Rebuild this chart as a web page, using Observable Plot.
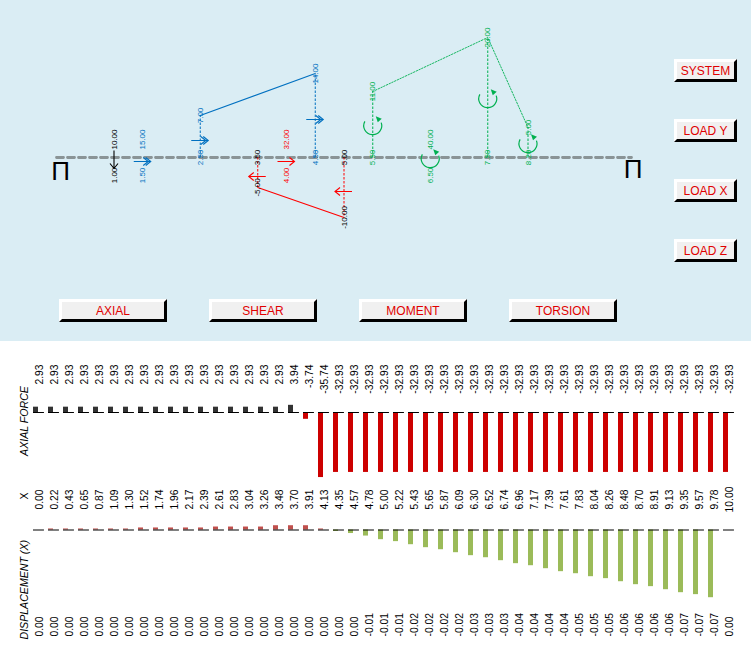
<!DOCTYPE html>
<html><head><meta charset="utf-8">
<script src="https://cdn.jsdelivr.net/npm/d3@7"></script>
<script src="https://cdn.jsdelivr.net/npm/@observablehq/plot@0.6"></script>
<style>
html,body{margin:0;padding:0;background:#fff}
#page{position:relative;width:751px;height:661px;overflow:hidden;font-family:"Liberation Sans",Arial,sans-serif}
#page svg{position:absolute;left:0;max-width:none}
.btn{position:absolute;box-sizing:border-box;height:23px;background:#f0f0f0;border:3px solid;border-color:#fff #000 #000 #fff;color:#e00000;font-size:12px;line-height:18px;text-align:center}
</style></head><body><div id="page"></div>
<script>
// Loads on the beam (position along the beam, load value)
const axialLoadX = [1.0], axialLoadV = [10];
const bluePointX = [1.5], bluePointV = [15];
const redPointX = [4.0], redPointV = [32];
const greenPointX = [6.5], greenPointV = [40];
const blueDistX = [2.5, 4.5], blueDistV = [7, 14];
const redDistX = [3.5, 5.0], redDistV = [-5, -10];
const greenDistX = [5.5, 7.5, 8.2], greenDistV = [11, 20, 5];
const beamEnds = [0, 10];
const supportX = [0.07, 10.03], supportY = [-2.3, -2.0];

// Result tables
const stationX = ["0.00","0.22","0.43","0.65","0.87","1.09","1.30","1.52","1.74","1.96","2.17","2.39","2.61","2.83","3.04","3.26","3.48","3.70","3.91","4.13","4.35","4.57","4.78","5.00","5.22","5.43","5.65","5.87","6.09","6.30","6.52","6.74","6.96","7.17","7.39","7.61","7.83","8.04","8.26","8.48","8.70","8.91","9.13","9.35","9.57","9.78","10.00"];
const axialForce = [2.93,2.93,2.93,2.93,2.93,2.93,2.93,2.93,2.93,2.93,2.93,2.93,2.93,2.93,2.93,2.93,2.93,3.94,-3.74,-35.74,-32.93,-32.93,-32.93,-32.93,-32.93,-32.93,-32.93,-32.93,-32.93,-32.93,-32.93,-32.93,-32.93,-32.93,-32.93,-32.93,-32.93,-32.93,-32.93,-32.93,-32.93,-32.93,-32.93,-32.93,-32.93,-32.93,-32.93];
const displacementX = [0,0.0011,0.0011,0.0011,0.0011,0.0011,0.0011,0.0022,0.0022,0.0022,0.0022,0.0022,0.0032,0.0032,0.0032,0.0032,0.0046,0.0046,0.0046,0.0011,-0.0016,-0.0038,-0.0065,-0.0104,-0.0125,-0.0158,-0.0190,-0.0212,-0.0244,-0.0276,-0.0298,-0.0330,-0.0362,-0.0384,-0.0416,-0.0448,-0.0470,-0.0502,-0.0523,-0.0556,-0.0588,-0.0609,-0.0642,-0.0674,-0.0695,-0.0728,0];
const topButtons = ["AXIAL","SHEAR","MOMENT","TORSION"];
const sideButtons = ["SYSTEM","LOAD Y","LOAD X","LOAD Z"];

const BLUE="#0070c0", RED="#ff0000", GREEN="#00b050", BLACK="#000";
const rows = a => a.map((v,i)=>({i,v}));
const pairs = (xs,vs) => xs.map((x,i)=>({x,v:vs[i]}));
const fix = v => { const s=v.toFixed(2); return s==="-0.00"?"0.00":s; };

// arrow and moment glyphs, as symbols for Plot.dot
const arrowRight2 = {draw(c){c.moveTo(-9,0);c.lineTo(8,0);c.moveTo(3,-4);c.lineTo(8,0);c.lineTo(3,4);c.moveTo(0.5,-4);c.lineTo(5.5,0);c.lineTo(0.5,4);}};
const arrowRight = {draw(c){c.moveTo(-9,0);c.lineTo(8,0);c.moveTo(3,-4);c.lineTo(8,0);c.lineTo(3,4);}};
const arrowLeft = {draw(c){c.moveTo(8,0);c.lineTo(-9,0);c.moveTo(-4,-4);c.lineTo(-9,0);c.lineTo(-4,4);}};
const arrowDown = {draw(c){c.moveTo(0,-9);c.lineTo(0,9);c.moveTo(-4,4);c.lineTo(0,9);c.lineTo(4,4);}};
const momentArc = {draw(c){const a=209*Math.PI/180;c.moveTo(9*Math.cos(a),9*Math.sin(a));c.arc(0,0,9,a,-20*Math.PI/180,true);}};
const momentHead = {draw(c){c.moveTo(3,-9.5);c.lineTo(9,-7);c.lineTo(5,-3.5);c.closePath();}};

const font="Liberation Sans, Arial, sans-serif";
const lab = {fontSize:8, rotate:-90, lineAnchor:"middle", fontFamily:"Liberation Sans Narrow, Liberation Sans, Arial, sans-serif"};
const P = d => d.toFixed(2);

function stems(data,color){return Plot.ruleX(data,{x:"x",y1:0,y2:"v",stroke:color,strokeWidth:1,strokeDasharray:"2.5,1.5"});}

const beamPlot = Plot.plot({
  width:751,height:341,margin:0,
  style:{background:"#daedf4"},
  x:{domain:[-56/57.5,695/57.5],range:[0,751],axis:null},
  y:{domain:[157/6,-184/6],range:[0,341],axis:null},
  marks:[
    Plot.line(beamEnds,{x:d=>d,y:0,stroke:"#8a9496",strokeWidth:2.8,strokeDasharray:"7,4"}),
    Plot.text(supportX,{x:d=>d,y:(d,i)=>supportY[i],text:()=>"Π",fontSize:26,fill:"#000",fontFamily:font}),
    stems(pairs(blueDistX,blueDistV),BLUE),
    stems(pairs(redDistX,redDistV),RED),
    stems(pairs(greenDistX,greenDistV),GREEN),
    Plot.line(pairs(blueDistX,blueDistV),{x:"x",y:"v",stroke:BLUE,strokeWidth:1.1}),
    Plot.line(pairs(redDistX,redDistV),{x:"x",y:"v",stroke:RED,strokeWidth:1.1}),
    Plot.line(pairs(greenDistX,greenDistV),{x:"x",y:"v",stroke:GREEN,strokeWidth:0.9,strokeDasharray:"1.5,1.5"}),
    // load arrows
    Plot.dot(pairs(axialLoadX,axialLoadV),{x:"x",y:-0.33,symbol:arrowDown,fill:"none",stroke:BLACK,strokeWidth:1.1}),
    Plot.dot(pairs(bluePointX,bluePointV),{x:"x",y:-0.67,symbol:arrowRight2,fill:"none",stroke:BLUE,strokeWidth:1.1}),
    Plot.dot(pairs(blueDistX,blueDistV),{x:"x",y:d=>d.v/2-0.67,symbol:arrowRight2,fill:"none",stroke:BLUE,strokeWidth:1.1}),
    Plot.dot(pairs(redPointX,redPointV),{x:"x",y:-0.67,symbol:arrowRight,fill:"none",stroke:RED,strokeWidth:1.1}),
    Plot.dot(pairs(redDistX,redDistV),{x:"x",y:d=>d.v/2-0.67,symbol:arrowLeft,fill:"none",stroke:RED,strokeWidth:1.1}),
    // moment glyphs
    Plot.dot(pairs(greenPointX,greenPointV),{x:"x",y:-0.2,symbol:momentArc,fill:"none",stroke:GREEN,strokeWidth:1.2}),
    Plot.dot(pairs(greenPointX,greenPointV),{x:"x",y:-0.2,symbol:momentHead,fill:GREEN,stroke:"none"}),
    Plot.dot(pairs(greenDistX,greenDistV),{x:"x",y:d=>d.v/2-0.2,symbol:momentArc,fill:"none",stroke:GREEN,strokeWidth:1.2}),
    Plot.dot(pairs(greenDistX,greenDistV),{x:"x",y:d=>d.v/2-0.2,symbol:momentHead,fill:GREEN,stroke:"none"}),
    // labels: point loads
    Plot.text(pairs(axialLoadX,axialLoadV),{...lab,x:"x",y:3,text:d=>P(d.v),fill:BLACK}),
    Plot.text(pairs(axialLoadX,axialLoadV),{...lab,x:"x",y:-3,text:d=>P(d.x),fill:BLACK}),
    Plot.text(pairs(bluePointX,bluePointV),{...lab,x:"x",y:3,text:d=>P(d.v),fill:BLUE}),
    Plot.text(pairs(bluePointX,bluePointV),{...lab,x:"x",y:-3,text:d=>P(d.x),fill:BLUE}),
    Plot.text(pairs(redPointX,redPointV),{...lab,x:"x",y:3,text:d=>P(d.v),fill:RED}),
    Plot.text(pairs(redPointX,redPointV),{...lab,x:"x",y:-3,text:d=>P(d.x),fill:RED}),
    Plot.text(pairs(greenPointX,greenPointV),{...lab,x:"x",y:3,text:d=>P(d.v),fill:GREEN}),
    Plot.text(pairs(greenPointX,greenPointV),{...lab,x:"x",y:-3,text:d=>P(d.x),fill:GREEN}),
    // labels: distributed loads
    Plot.text(pairs(blueDistX,blueDistV),{...lab,x:"x",y:"v",text:d=>P(d.v),fill:BLUE}),
    Plot.text(pairs(blueDistX,blueDistV),{...lab,x:"x",y:0,text:d=>P(d.x),fill:BLUE}),
    Plot.text(pairs(redDistX,redDistV),{...lab,x:"x",y:"v",text:d=>P(d.v),fill:BLACK}),
    Plot.text(pairs(redDistX,redDistV),{...lab,x:"x",y:0,text:d=>P(d.x),fill:BLACK}),
    Plot.text(pairs(greenDistX,greenDistV),{...lab,x:"x",y:"v",text:d=>P(d.v),fill:GREEN}),
    Plot.text(pairs(greenDistX,greenDistV),{...lab,x:"x",y:0,text:d=>P(d.x),fill:GREEN})
  ]
});
beamPlot.style.top="0px";

const xDomain=[-33/15,718/15];
const axialPlot = Plot.plot({
  width:751,height:145,margin:0,
  x:{domain:xDomain,range:[0,751],axis:null},
  y:{domain:[71/1.82,-74/1.82],range:[0,145],axis:null},
  marks:[
    Plot.rect(rows(axialForce),{x1:"i",x2:d=>d.i+1/3,y1:0,y2:"v",fill:d=>d.v>=0?"#333333":"#cc0000"}),
    Plot.ruleY(rows(axialForce),{x1:"i",x2:d=>d.i+0.73,y:0,stroke:"#000",strokeWidth:1}),
    Plot.text(rows(axialForce),{x:d=>d.i+1/3,frameAnchor:"top",dx:1,dy:23,rotate:-90,lineAnchor:"middle",textAnchor:"end",text:d=>fix(d.v),fontSize:10.3,fill:"#000",fontFamily:font}),
    Plot.text(["AXIAL FORCE"],{frameAnchor:"left",dx:24,dy:7,rotate:-90,lineAnchor:"middle",textAnchor:"middle",text:d=>d,fontSize:10.6,fontStyle:"italic",fill:"#000",fontFamily:font})
  ]
});
axialPlot.style.top="341px";

const dispPlot = Plot.plot({
  width:751,height:175,margin:0,
  x:{domain:xDomain,range:[0,751],axis:null},
  y:{domain:[43.5/930,-131.5/930],range:[0,175],axis:null},
  marks:[
    Plot.rect(rows(displacementX),{x1:"i",x2:d=>d.i+1/3,y1:0,y2:"v",fill:d=>d.v>=0?"#c0504d":"#9bbb59"}),
    Plot.ruleY(rows(displacementX),{x1:"i",x2:d=>d.i+0.73,y:0,stroke:"#000",strokeWidth:1}),
    Plot.text(stationX,{x:(d,i)=>i+1/3,frameAnchor:"top",dx:1,dy:13,rotate:-90,lineAnchor:"middle",text:d=>d,fontSize:10.3,fill:"#000",fontFamily:font}),
    Plot.text(["X"],{frameAnchor:"top-left",dx:24,dy:13,rotate:-90,lineAnchor:"middle",text:d=>d,fontSize:10.6,fill:"#000",fontFamily:font}),
    Plot.text(rows(displacementX),{x:d=>d.i+1/3,frameAnchor:"top",dx:1,dy:150,rotate:-90,lineAnchor:"middle",textAnchor:"start",text:d=>fix(d.v),fontSize:10.3,fill:"#000",fontFamily:font}),
    Plot.text(["DISPLACEMENT (X)"],{frameAnchor:"top-left",dx:24,dy:153,rotate:-90,lineAnchor:"middle",textAnchor:"start",text:d=>d,fontSize:10.6,fontStyle:"italic",fill:"#000",fontFamily:font})
  ]
});
dispPlot.style.top="486px";

const page=document.getElementById("page");
page.append(beamPlot,axialPlot,dispPlot);
topButtons.forEach((t,i)=>{const b=document.createElement("div");b.className="btn";b.textContent=t;b.style.cssText=`left:${59+150*i}px;top:299px;width:108px`;page.append(b);});
sideButtons.forEach((t,i)=>{const b=document.createElement("div");b.className="btn";b.textContent=t;b.style.cssText=`left:674px;top:${59+60*i}px;width:63px`;page.append(b);});
</script></body></html>
